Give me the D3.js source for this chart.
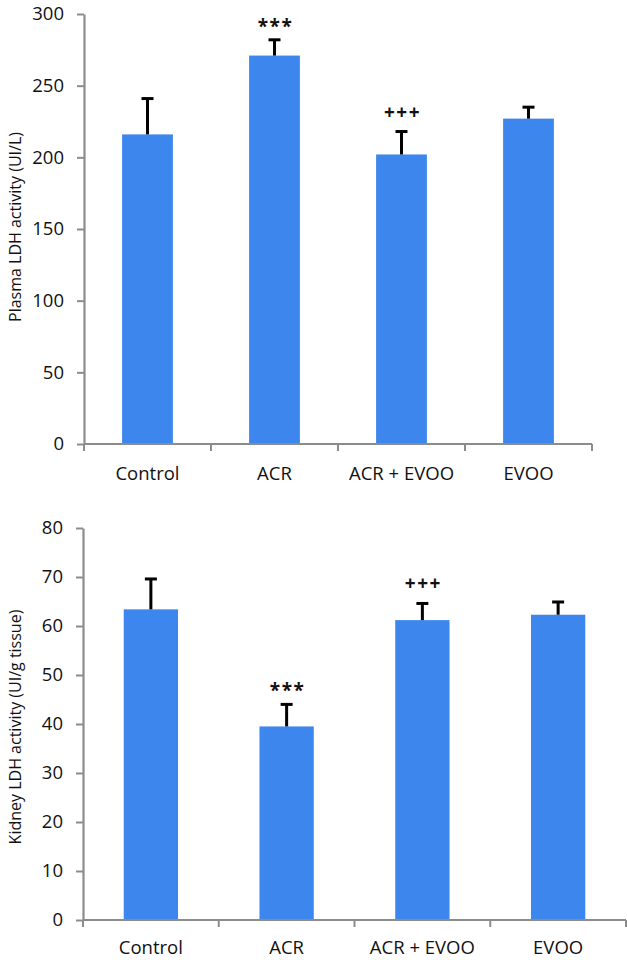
<!DOCTYPE html>
<html><head><meta charset="utf-8">
<script src="https://cdn.jsdelivr.net/npm/d3@7"></script>
<style>body{margin:0;background:#fff}svg{display:block}text{font-family:"Open Sans","Liberation Sans",sans-serif;fill:#111}</style>
</head><body><svg id="c" width="627" height="960"></svg>
<script>
const categories = ["Control", "ACR", "ACR + EVOO", "EVOO"];
const plasmaValues = [216, 271, 202, 227];
const plasmaErrors = [25, 11, 16, 8];
const plasmaMarks = ["", "***", "+++", ""];
const plasmaTicks = [0, 50, 100, 150, 200, 250, 300];
const kidneyValues = [63.4, 39.5, 61.2, 62.3];
const kidneyErrors = [6.2, 4.5, 3.4, 2.6];
const kidneyMarks = ["", "***", "+++", ""];
const kidneyTicks = [0, 10, 20, 30, 40, 50, 60, 70, 80];

const svg = d3.select("#c");
const barColor = "#3d86ee";
const axisColor = "#8c8c8c";

function panel(cfg) {
  const x = d3.scaleBand().domain(categories).range([cfg.x0, cfg.x1]).paddingInner(0.6).paddingOuter(0.3);
  const y = d3.scaleLinear().domain([0, cfg.max]).range([cfg.y0, cfg.y1]);
  const g = svg.append("g");
  const cx = i => x(categories[i]) + x.bandwidth() / 2;
  g.selectAll("rect.bar").data(cfg.values).join("rect")
    .attr("x", (d, i) => x(categories[i])).attr("width", x.bandwidth())
    .attr("y", d => y(d)).attr("height", d => y(0) - y(d)).attr("fill", barColor);
  const eb = g.selectAll("g.eb").data(cfg.values).join("g");
  eb.append("line").attr("x1", (d, i) => cx(i)).attr("x2", (d, i) => cx(i))
    .attr("y1", d => y(d)).attr("y2", (d, i) => y(d + cfg.errors[i])).attr("stroke", "#000").attr("stroke-width", 3);
  eb.append("line").attr("x1", (d, i) => cx(i) - 6).attr("x2", (d, i) => cx(i) + 6)
    .attr("y1", (d, i) => y(d + cfg.errors[i])).attr("y2", (d, i) => y(d + cfg.errors[i])).attr("stroke", "#000").attr("stroke-width", 3);
  g.selectAll("text.mk").data(cfg.values).join("text")
    .attr("x", (d, i) => cx(i) + 1)
    .attr("y", (d, i) => y(d + cfg.errors[i]) - (cfg.marks[i].startsWith("*") ? 7 : 13))
    .attr("text-anchor", "middle").style("font-size", "19px").style("font-weight", "bold").style("letter-spacing", "1.5px")
    .text((d, i) => cfg.marks[i]);
  const ya = g.append("g").attr("transform", `translate(${cfg.x0},0)`)
    .call(d3.axisLeft(y).tickValues(cfg.ticks).tickSize(7).tickSizeOuter(0).tickPadding(13));
  ya.select(".domain").attr("stroke", axisColor).attr("stroke-width", 2.2);
  ya.selectAll(".tick line").attr("stroke", axisColor).attr("stroke-width", 2);
  ya.selectAll(".tick text").style("font-size", "18.5px").attr("fill", "#111");
  const xa = g.append("g").attr("transform", `translate(0,${cfg.y0})`);
  xa.append("line").attr("x1", cfg.x0).attr("x2", cfg.x1).attr("stroke", axisColor).attr("stroke-width", 2.2);
  const bounds = d3.range(categories.length + 1).map(i => cfg.x0 + i * x.step());
  xa.selectAll("line.t").data(bounds).join("line").attr("x1", d => d).attr("x2", d => d).attr("y1", 0).attr("y2", 7)
    .attr("stroke", axisColor).attr("stroke-width", 2);
  xa.selectAll("text").data(categories).join("text")
    .attr("x", d => x(d) + x.bandwidth() / 2).attr("y", cfg.labelDy).attr("text-anchor", "middle").style("font-size", "18.5px").text(d => d);
  svg.append("text").attr("transform", `translate(21,${cfg.labelY}) rotate(-90)`)
    .attr("text-anchor", "middle").style("font-size", "16px").text(cfg.label);
}

panel({x0: 84, x1: 592, y0: 444, y1: 14, max: 300, values: plasmaValues, errors: plasmaErrors, marks: plasmaMarks, ticks: plasmaTicks, label: "Plasma LDH activity (UI/L)", labelDy: 36, labelY: 227});
panel({x0: 83, x1: 626, y0: 920, y1: 528, max: 80, values: kidneyValues, errors: kidneyErrors, marks: kidneyMarks, ticks: kidneyTicks, label: "Kidney LDH activity (UI/g tissue)", labelDy: 34, labelY: 727});
</script></body></html>
